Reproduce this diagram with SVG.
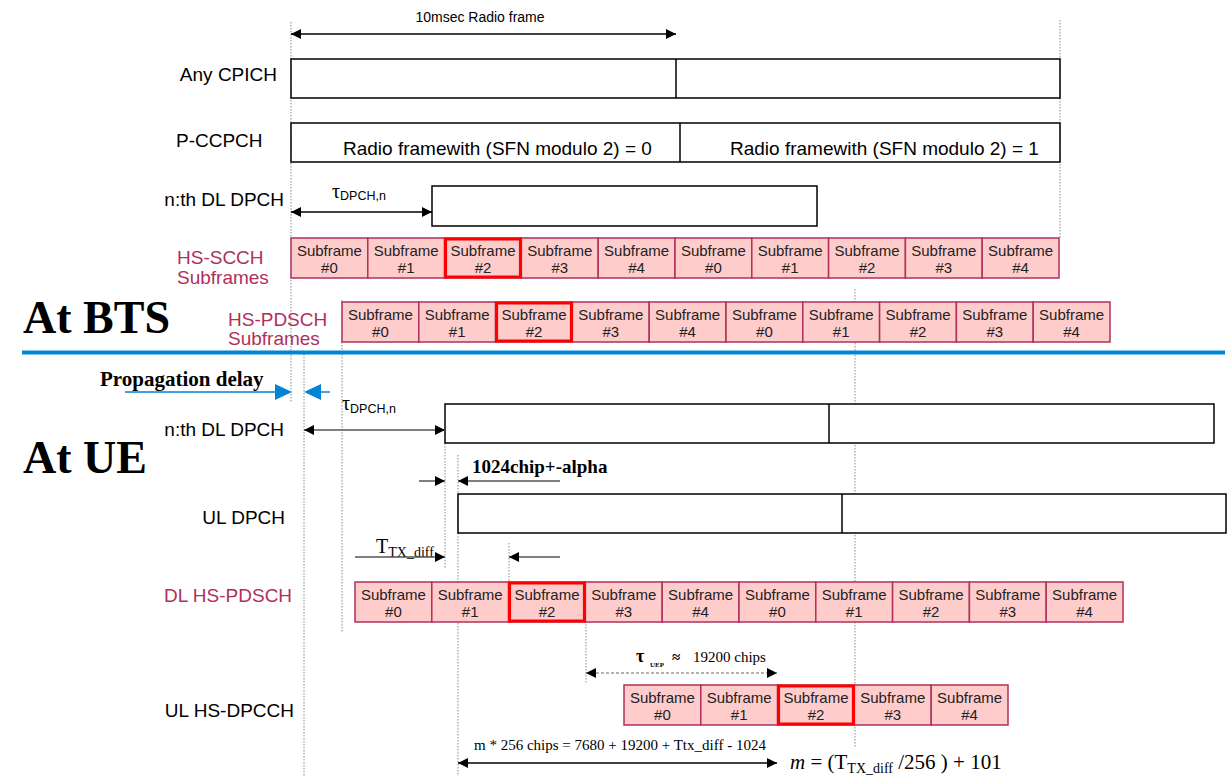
<svg xmlns="http://www.w3.org/2000/svg" width="1232" height="776" viewBox="0 0 1232 776">
<style>
.lbl{font-family:"Liberation Sans",Arial,sans-serif;font-size:19px;fill:#000}
.clbl{font-family:"Liberation Sans",Arial,sans-serif;font-size:19px;fill:#b0305c}
.sm{font-family:"Liberation Sans",Arial,sans-serif;font-size:14px;fill:#000}
.big{font-family:"Liberation Serif","Times New Roman",serif;font-weight:bold;font-size:46px;fill:#000}
.ser{font-family:"Liberation Serif","Times New Roman",serif;fill:#000}
.box{fill:#fff;stroke:#000;stroke-width:1.5}
.cell{fill:#ffcccc;stroke:#b0305c;stroke-width:1.5}
.hl{fill:none;stroke:#ff0000;stroke-width:3}
.sf{font-family:"Liberation Sans",Arial,sans-serif;font-size:15px;fill:#222;text-anchor:middle}
.dot{stroke:#888;stroke-width:1;stroke-dasharray:1.5,1.5;fill:none}
.arr{stroke:#000;stroke-width:1.5;fill:none}
.garr{stroke:#555;stroke-width:1.5;fill:none}
</style>
<defs>
<marker id="ah" viewBox="0 0 10 10" refX="10" refY="5" markerWidth="10" markerHeight="10" markerUnits="userSpaceOnUse" orient="auto-start-reverse"><path d="M0,0 L10,5 L0,10 z" fill="#000"/></marker>
<g id="row10">
<rect class="cell" x="0" y="0" width="76.8" height="40"/><rect class="cell" x="76.8" y="0" width="76.8" height="40"/><rect class="cell" x="153.6" y="0" width="76.8" height="40"/><rect class="cell" x="230.4" y="0" width="76.8" height="40"/><rect class="cell" x="307.2" y="0" width="76.8" height="40"/><rect class="cell" x="384" y="0" width="76.8" height="40"/><rect class="cell" x="460.8" y="0" width="76.8" height="40"/><rect class="cell" x="537.6" y="0" width="76.8" height="40"/><rect class="cell" x="614.4" y="0" width="76.8" height="40"/><rect class="cell" x="691.2" y="0" width="76.8" height="40"/>
<rect class="hl" x="154.6" y="1" width="74.8" height="38"/>
<text class="sf" y="17.5"><tspan x="38.4">Subframe</tspan><tspan x="38.4" dy="17">#0</tspan></text>
<text class="sf" y="17.5"><tspan x="115.2">Subframe</tspan><tspan x="115.2" dy="17">#1</tspan></text>
<text class="sf" y="17.5"><tspan x="192">Subframe</tspan><tspan x="192" dy="17">#2</tspan></text>
<text class="sf" y="17.5"><tspan x="268.8">Subframe</tspan><tspan x="268.8" dy="17">#3</tspan></text>
<text class="sf" y="17.5"><tspan x="345.6">Subframe</tspan><tspan x="345.6" dy="17">#4</tspan></text>
<text class="sf" y="17.5"><tspan x="422.4">Subframe</tspan><tspan x="422.4" dy="17">#0</tspan></text>
<text class="sf" y="17.5"><tspan x="499.2">Subframe</tspan><tspan x="499.2" dy="17">#1</tspan></text>
<text class="sf" y="17.5"><tspan x="576">Subframe</tspan><tspan x="576" dy="17">#2</tspan></text>
<text class="sf" y="17.5"><tspan x="652.8">Subframe</tspan><tspan x="652.8" dy="17">#3</tspan></text>
<text class="sf" y="17.5"><tspan x="729.6">Subframe</tspan><tspan x="729.6" dy="17">#4</tspan></text>
</g>
</defs>

<g id="guides">
<line class="dot" x1="291" y1="22" x2="291" y2="402"/>
<line class="dot" x1="1060" y1="20" x2="1060" y2="238"/>
<line class="dot" x1="304" y1="354" x2="304" y2="776"/>
<line class="dot" x1="342" y1="300" x2="342" y2="633"/>
<line class="dot" x1="445" y1="443" x2="445" y2="568"/>
<line class="dot" x1="458" y1="455" x2="458" y2="776"/>
<line class="dot" x1="509" y1="543" x2="509" y2="582"/>
<line class="dot" x1="586" y1="621" x2="586" y2="683"/>
<line class="dot" x1="855" y1="289" x2="855" y2="748"/>
</g>

<g id="title-frame">
<text class="sm" x="480" y="22" text-anchor="middle">10msec Radio frame</text>
</g>

<g id="any-cpich">
<text class="lbl" x="277" y="81" text-anchor="end">Any CPICH</text>
<rect class="box" x="291" y="59" width="769" height="39"/>
<line class="arr" x1="676" y1="59" x2="676" y2="98"/>
</g>

<g id="p-ccpch">
<text class="lbl" x="176" y="147">P-CCPCH</text>
<rect class="box" x="291" y="123" width="769" height="39"/>
<line class="arr" x1="680" y1="123" x2="680" y2="162"/>
<text class="lbl" x="343" y="155">Radio framewith (SFN modulo 2) = 0</text>
<text class="lbl" x="730" y="155">Radio framewith (SFN modulo 2) = 1</text>
</g>

<g id="bts-dl-dpch">
<text class="lbl" x="284" y="206" text-anchor="end">n:th DL DPCH</text>
<rect class="box" x="432" y="186" width="385" height="40"/>
<text x="332" y="198"><tspan class="ser" font-size="20">τ</tspan><tspan font-family="Liberation Sans,Arial,sans-serif" font-size="12.5" dy="2">DPCH,n</tspan></text>
</g>

<g id="hs-scch">
<text class="clbl" x="177" y="264">HS-SCCH</text>
<text class="clbl" x="177" y="284">Subframes</text>
<use href="#row10" x="291" y="238"/>
</g>

<g id="at-bts">
<text class="big" x="23" y="333">At BTS</text>
</g>

<g id="hs-pdsch">
<text class="clbl" x="228" y="326">HS-PDSCH</text>
<text class="clbl" x="228" y="345">Subframes</text>
<use href="#row10" x="342" y="302"/>
</g>

<g id="divider">
<line x1="22" y1="352.5" x2="1225" y2="352.5" stroke="#0085d5" stroke-width="4"/>
</g>

<g id="propagation">
<text class="ser" x="100" y="386" font-size="21" font-weight="bold">Propagation delay</text>
<line x1="125" y1="392" x2="276" y2="392" stroke="#0085d5" stroke-width="1.5"/>
<path d="M275,384 L292,392 L275,400 z" fill="#0085d5"/>
<line x1="320" y1="392" x2="330" y2="392" stroke="#0085d5" stroke-width="1.5"/>
<path d="M321,384 L304,392 L321,400 z" fill="#0085d5"/>
</g>

<g id="ue-dl-dpch">
<text class="lbl" x="284" y="436" text-anchor="end">n:th DL DPCH</text>
<rect class="box" x="445" y="404" width="769" height="39"/>
<line class="arr" x1="829" y1="404" x2="829" y2="443"/>
<text x="342" y="410"><tspan class="ser" font-size="20">τ</tspan><tspan font-family="Liberation Sans,Arial,sans-serif" font-size="12.5" dy="3">DPCH,n</tspan></text>
</g>

<g id="at-ue">
<text class="big" x="23" y="473">At UE</text>
</g>

<g id="chip-offset">
<text class="ser" x="472" y="473" font-size="19" font-weight="bold">1024chip+-alpha</text>
</g>

<g id="ul-dpch">
<text class="lbl" x="285" y="524" text-anchor="end">UL DPCH</text>
<rect class="box" x="458" y="494" width="768" height="39"/>
<line class="arr" x1="842" y1="494" x2="842" y2="533"/>
</g>

<g id="ttx-diff">
<text class="ser" x="376" y="553" font-size="20">T<tspan font-size="14" dy="4">TX_diff</tspan></text>
</g>

<g id="dl-hs-pdsch">
<text class="clbl" x="164" y="602">DL HS-PDSCH</text>
<use href="#row10" x="355" y="582"/>
</g>

<g id="tau-uep">
<text class="ser" font-size="15" font-weight="bold" y="662"><tspan x="636" font-size="18">τ</tspan><tspan x="650" dy="5" font-size="7">UEP</tspan><tspan x="672" dy="-5">≈</tspan><tspan x="693" font-weight="normal">19200 chips</tspan></text>
</g>

<g id="ul-hs-dpcch">
<text class="lbl" x="294" y="717" text-anchor="end">UL HS-DPCCH</text>
<g transform="translate(624,685)">
<rect class="cell" x="0" y="0" width="76.8" height="40"/><rect class="cell" x="76.8" y="0" width="76.8" height="40"/><rect class="cell" x="153.6" y="0" width="76.8" height="40"/><rect class="cell" x="230.4" y="0" width="76.8" height="40"/><rect class="cell" x="307.2" y="0" width="76.8" height="40"/>
<rect class="hl" x="154.6" y="1" width="74.8" height="38"/>
<text class="sf" y="17.5"><tspan x="38.4">Subframe</tspan><tspan x="38.4" dy="17">#0</tspan></text>
<text class="sf" y="17.5"><tspan x="115.2">Subframe</tspan><tspan x="115.2" dy="17">#1</tspan></text>
<text class="sf" y="17.5"><tspan x="192">Subframe</tspan><tspan x="192" dy="17">#2</tspan></text>
<text class="sf" y="17.5"><tspan x="268.8">Subframe</tspan><tspan x="268.8" dy="17">#3</tspan></text>
<text class="sf" y="17.5"><tspan x="345.6">Subframe</tspan><tspan x="345.6" dy="17">#4</tspan></text>
</g>
</g>

<g id="formula">
<text class="ser" x="474" y="750" font-size="15">m * 256 chips = 7680 + 19200 + Ttx_diff - 1024</text>
<text class="ser" x="790" y="769" font-size="21"><tspan font-style="italic">m</tspan> = (T<tspan font-size="14" dy="4">TX_diff</tspan><tspan dy="-4"> /256 ) + 101</tspan></text>
</g>

<g id="connectors">
<line class="arr" x1="291" y1="34" x2="676" y2="34" marker-start="url(#ah)" marker-end="url(#ah)"/>
<line class="arr" x1="291" y1="212" x2="432" y2="212" marker-start="url(#ah)" marker-end="url(#ah)"/>
<line class="garr" x1="304" y1="430" x2="445" y2="430" marker-start="url(#ah)" marker-end="url(#ah)"/>
<line class="garr" x1="419" y1="481" x2="445" y2="481" marker-end="url(#ah)"/>
<line class="garr" x1="560" y1="481" x2="458" y2="481" marker-end="url(#ah)"/>
<line class="garr" x1="355" y1="557" x2="445" y2="557" marker-end="url(#ah)"/>
<line class="garr" x1="560" y1="557" x2="509" y2="557" marker-end="url(#ah)"/>
<line x1="586" y1="673" x2="777" y2="673" stroke="#666" stroke-width="1" stroke-dasharray="3,2" marker-start="url(#ah)" marker-end="url(#ah)"/>
<line class="arr" x1="458" y1="763" x2="777" y2="763" marker-start="url(#ah)" marker-end="url(#ah)"/>
</g>
</svg>
